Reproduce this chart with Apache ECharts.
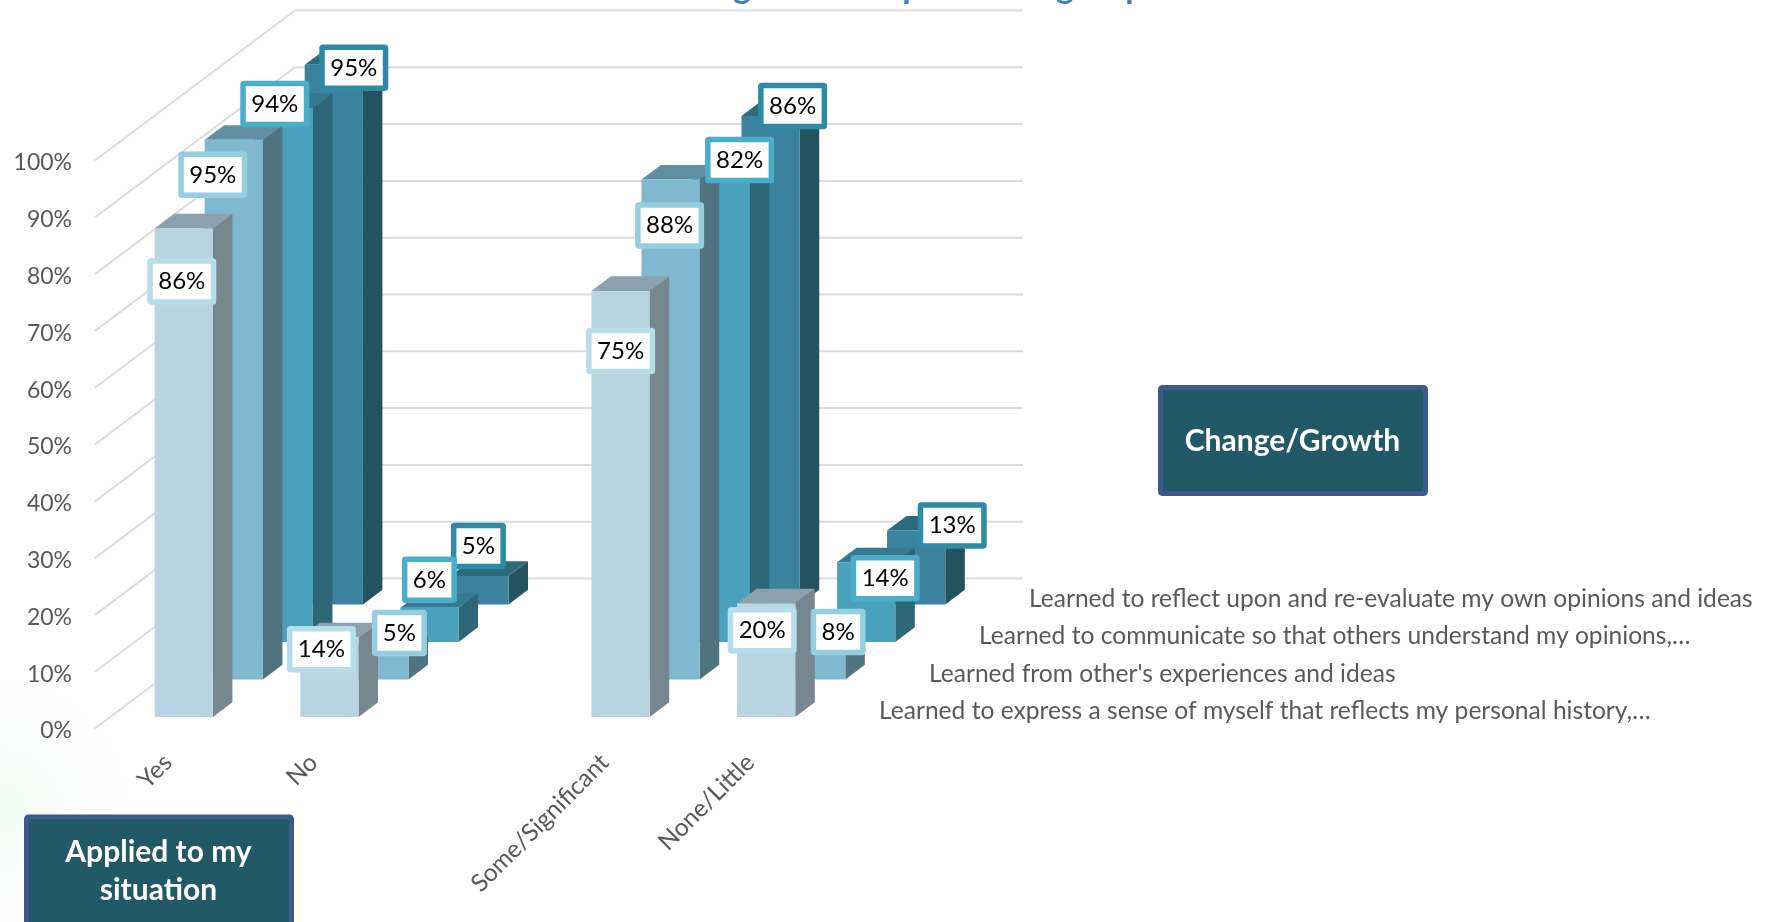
<!DOCTYPE html>
<html><head><meta charset="utf-8">
<style>html,body{margin:0;padding:0;background:#fff;overflow:hidden}#c{width:1765px;height:922px}</style>
<script src="https://cdn.jsdelivr.net/npm/echarts@6/dist/echarts.min.js"></script>
</head><body><div id="c"></div>
<script>
const categories = ['Yes', 'No', '', 'Some/Significant', 'None/Little'];
const yTicks = [0, 10, 20, 30, 40, 50, 60, 70, 80, 90, 100];
const seriesNames = [
  'Learned to express a sense of myself that reflects my personal history,…',
  "Learned from other's experiences and ideas",
  'Learned to communicate so that others understand my opinions,…',
  'Learned to reflect upon and re-evaluate my own opinions and ideas'
];
const expressValues = [86, 14, null, 75, 20];
const othersValues = [95, 5, null, 88, 8];
const communicateValues = [94, 6, null, 82, 14];
const reflectValues = [95, 5, null, 86, 13];
const rowValues = [expressValues, othersValues, communicateValues, reflectValues];

// Styling and hand-placed callout offsets (relative to each bar's top centre)
const faceColors = ['#b7d4e0', '#7fb8cf', '#4aa1bd', '#3a829d'];
const sideColors = ['#76878f', '#50747f', '#2d6677', '#24535f'];
const topColors = ['#8ba1ad', '#5f8fa1', '#357a90', '#2c6a7c'];
const labelBorders = ['#b6dde9', '#93cfe0', '#4aadc9', '#2f8aa6'];
const labelOffsets = [
  [[-2, 53], [-8, 12], null, [0, 60], [-4, 27]],
  [[-21, 35], [20, -18], null, [-1, 46], [22, -2]],
  [[-9, -4], [0, -28], null, [19, -16], [19, 16]],
  [[20, 3], [-1, -30], null, [22, -10], [36, -5]]
];
const rowDX = 50, rowDY = 37.5, rowStart = 0.32, rowStartY = 0.31, barDepth = 0.39, barWidth = 0.4;
const LABEL_FONT = 'Lato, "Open Sans", sans-serif';
const GRID_COLOR = '#dcdcdc', TEXT_COLOR = '#595959';

function barGeom(api, r) {
  const p = api.coord([api.value(0), api.value(1)]);
  const b = api.coord([api.value(0), 0]);
  const band = api.size([1, 0])[0];
  const w = band * barWidth;
  const cx = p[0] + rowDX * (r + rowStart);
  const sh = rowDY * (r + rowStartY);
  return { cx, w, top: p[1] - sh, bottom: b[1] - sh, dd: rowDX * barDepth, dy: rowDY * barDepth };
}

function renderBar(r) {
  return function (params, api) {
    if (isNaN(api.value(1))) return;
    const g = barGeom(api, r), xL = g.cx - g.w / 2, xR = g.cx + g.w / 2;
    return { type: 'group', children: [
      { type: 'polygon', shape: { points: [[xR, g.bottom], [xR, g.top], [xR + g.dd, g.top - g.dy], [xR + g.dd, g.bottom - g.dy]] }, style: { fill: sideColors[r] } },
      { type: 'polygon', shape: { points: [[xL, g.top], [xR, g.top], [xR + g.dd, g.top - g.dy], [xL + g.dd, g.top - g.dy]] }, style: { fill: topColors[r] } },
      { type: 'rect', shape: { x: xL, y: g.top, width: g.w, height: g.bottom - g.top }, style: { fill: faceColors[r] } }
    ] };
  };
}

function renderLabel(r) {
  return function (params, api) {
    const v = api.value(1);
    if (isNaN(v)) return;
    const g = barGeom(api, r), off = labelOffsets[r][api.value(0)];
    const cx = g.cx + off[0], cy = g.top + off[1];
    const W = v < 10 ? 55 : 69, H = 46.5, lw = 5.5;
    return { type: 'group', children: [
      { type: 'rect', shape: { x: cx - W / 2 + lw / 2, y: cy - H / 2 + lw / 2, width: W - lw, height: H - lw, r: 1 }, style: { fill: '#fff', stroke: labelBorders[r], lineWidth: lw } },
      { type: 'text', style: { x: cx, y: cy, text: v + '%', fill: '#000', font: '24px ' + LABEL_FONT, align: 'center', verticalAlign: 'middle' } }
    ] };
  };
}

function renderGrid(params, api) {
  const v = api.value(1);
  const band = api.size([1, 0])[0];
  const left = api.coord([0, v])[0] - band / 2;
  const right = api.coord([categories.length - 1, v])[0] + band / 2;
  const y = api.coord([0, v])[1];
  const bx = rowDX * rowValues.length, by = rowDY * rowValues.length;
  return { type: 'polyline', shape: { points: [[left, y], [left + bx, y - by], [right + bx, y - by]] }, style: { fill: 'none', stroke: GRID_COLOR, lineWidth: 2 } };
}

function renderDepthLabel(params, api) {
  const r = api.value(2);
  const p = api.coord([api.value(0), 0]);
  const band = api.size([1, 0])[0];
  return { type: 'text', style: {
    x: p[0] + band / 2 + rowDX * (r + 0.5) + 31, y: p[1] - rowDY * (r + 0.5) + 1.5,
    text: seriesNames[r], fill: TEXT_COLOR, font: '24.6px ' + LABEL_FONT, align: 'left', verticalAlign: 'middle' } };
}

const series = [{
  type: 'custom', name: 'grid', renderItem: renderGrid, silent: true, z: 1,
  data: yTicks.map(t => [0, t]), encode: { x: 0, y: 1 }
}];
for (let r = rowValues.length - 1; r >= 0; r--) {
  series.push({ type: 'custom', name: seriesNames[r], renderItem: renderBar(r), z: 2,
    data: rowValues[r].map((v, i) => [i, v === null ? NaN : v]), encode: { x: 0, y: 1 } });
}
for (let r = rowValues.length - 1; r >= 0; r--) {
  series.push({ type: 'custom', name: seriesNames[r] + ' labels', renderItem: renderLabel(r), z: 5,
    data: rowValues[r].map((v, i) => [i, v === null ? NaN : v]), encode: { x: 0, y: 1 } });
}
series.push({ type: 'custom', name: 'depth axis', renderItem: renderDepthLabel, z: 3,
  data: seriesNames.map((n, r) => [categories.length - 1, 0, r]), encode: { x: 0, y: 1 } });

function callout(x, y, w, h, lines, cy, textDx) {
  const items = [{ type: 'rect', left: x, top: y, z: 20,
    shape: { width: w, height: h, r: 2 },
    style: { fill: '#225966', stroke: '#3b5c8a', lineWidth: 5 } }];
  lines.forEach((t, i) => items.push({ type: 'text', z: 21, x: x + w / 2 + textDx, y: cy[i],
    style: { text: t, fill: '#fff', font: 'bold 30px ' + LABEL_FONT, align: 'center', verticalAlign: 'middle' } }));
  return items;
}

// Lowest strokes of the slide title, which the reference crops at its top edge
const titleFragments = [['g', 742], ['p', 912], ['g', 1065], ['p', 1135]];

const chart = echarts.init(document.getElementById('c'), null, { renderer: 'canvas' });
chart.setOption({
  animation: false,
  backgroundColor: '#ffffff',
  tooltip: { show: false },
  legend: { show: false },
  grid: { left: 95, right: 1765 - 823, top: 160.5, bottom: 922 - 728.5 },
  xAxis: { type: 'category', data: categories, boundaryGap: true,
    axisLine: { show: false }, axisTick: { show: false }, splitLine: { show: false },
    axisLabel: { interval: 0, rotate: 45, margin: 30, color: TEXT_COLOR, fontSize: 24.5, fontFamily: LABEL_FONT } },
  yAxis: { type: 'value', min: 0, max: 100, interval: 10,
    axisLine: { show: false }, axisTick: { show: false }, splitLine: { show: false },
    axisLabel: { margin: 23, formatter: '{v|{value}%}',
      rich: { v: { color: TEXT_COLOR, fontSize: 23, fontFamily: LABEL_FONT, padding: [5, 0, 0, 0] } } } },
  series,
  graphic: [
    { type: 'rect', left: 0, top: 470, z: -1, silent: true, shape: { width: 190, height: 452 },
      style: { fill: { type: 'radial', x: 0, y: 0.75, r: 0.8, colorStops: [
        { offset: 0, color: 'rgba(226,243,232,0.5)' }, { offset: 1, color: 'rgba(255,255,255,0)' }] } } },
    ...titleFragments.map(([t, x]) => ({ type: 'text', x: x, y: -13, z: 1, silent: true,
      style: { text: t, fill: '#4a7ebb', font: 'bold 34px ' + LABEL_FONT, align: 'center', verticalAlign: 'middle' } })),
    ...callout(1158, 385, 265, 106, ['Change/Growth'], [441], 2),
    ...callout(24, 814.5, 265, 120, ['Applied to my', 'situation'], [852, 890], 2)
  ]
});
</script></body></html>
